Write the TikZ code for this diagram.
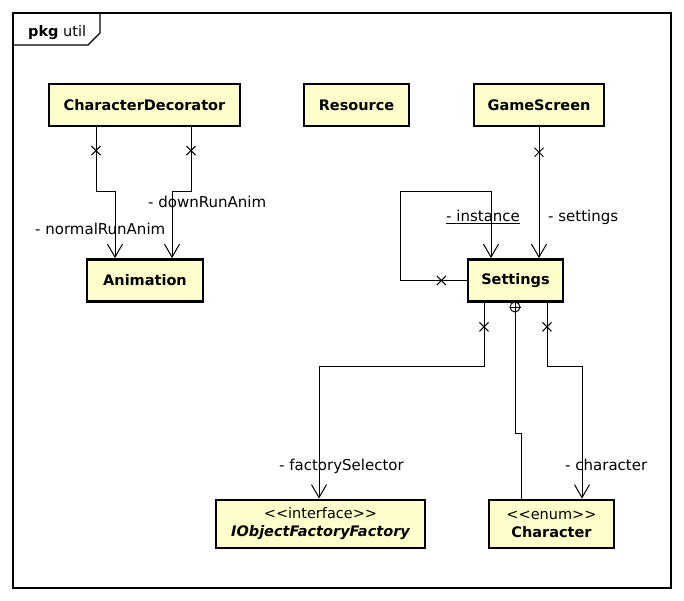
\documentclass[tikz,border=0pt]{standalone}
\usepackage{fontspec}
\setmainfont{DejaVu Sans}
\usetikzlibrary{arrows.meta,shapes.misc}
\definecolor{classfill}{RGB}{255,255,204}
\tikzset{
  cls/.style={draw,line width=2.8pt,fill=classfill,inner sep=0pt,
    minimum height=42pt,align=center,font=\fontsize{14.5}{18}\selectfont\bfseries},
  assoc/.style={line width=1pt,-{Straight Barb[length=13pt,width=15pt,line width=1pt]}},
  link/.style={line width=1pt},
  xmark/.style={cross out,draw,line width=1pt,minimum size=8pt,inner sep=0pt},
  nestmark/.style={circle,draw,line width=1pt,fill=white,minimum size=10pt,inner sep=0pt},
  lbl/.style={anchor=base west,inner sep=0pt,font=\fontsize{15}{18}\selectfont}
}
\begin{document}
\begin{tikzpicture}[x=1pt,y=-1pt]
      \useasboundingbox (0,0) rectangle (684,601);
      \draw[line width=1.2pt] (13,13) rectangle (671,588);
      \draw[line width=1.2pt] (13,45) -- (88,45) -- (100,33) -- (100,13);
      \node[lbl,font=\fontsize{14.5}{18}\selectfont] (tab) at (28,37) {\textbf{pkg} util};
      \draw
        (144.5,105) node[cls,minimum width=191pt] (cd){CharacterDecorator}
        (356.5,105) node[cls,minimum width=105pt] (res){Resource}
        (539,105) node[cls,minimum width=130pt] (gs){GameScreen}
        (145,280.5) node[cls,minimum width=116pt] (anim){Animation}
        (515.5,280.5) node[cls,minimum width=95pt] (set){Settings}
        (320.5,524) node[cls,minimum width=209pt,minimum height=48pt] (iof){{\mdseries {<}{<}interface{>}{>}}\\\itshape IObjectFactoryFactory}
        (551.5,524) node[cls,minimum width=125pt,minimum height=48pt] (chr){{\mdseries {<}{<}enum{>}{>}}\\Character};
      \begin{scope}
        \draw[assoc] (96,0 |- cd.south) -- node[xmark,pos=0.36]{} (96,192) -- (115,192) -- (115,0 |- anim.north);
        \draw[assoc] (191,0 |- cd.south) -- node[xmark,pos=0.36]{} (191,192) -- (172,192) -- (172,0 |- anim.north);
        \draw[assoc] (539,0 |- gs.south) -- node[xmark,pos=0.19]{} (539,0 |- set.north);
        \draw[assoc] (set.west) -- node[xmark,pos=0.38]{} (400,0 |- set.west) -- (400,192) -- (491,192) -- (491,0 |- set.north);
        \draw[assoc] (484,0 |- set.south) -- node[xmark,pos=0.38]{} (484,366) -- (319,366) -- (319,0 |- iof.north);
        \draw[assoc] (547,0 |- set.south) -- node[xmark,pos=0.38]{} (547,366) -- (582,366) -- (582,0 |- chr.north);
        \node[nestmark] (nest) at (515,307) {};
        \draw[link] (nest.north) -- (nest.south) (nest.west) -- (nest.east);
        \draw[link] (nest.south) -- (515,433) -- (521,433) -- (521,0 |- chr.north);
      \end{scope}
      \node[lbl] (l1) at (35,235) {- normalRunAnim};
      \node[lbl] (l2) at (148,208) {- downRunAnim};
      \node[lbl] (l3) at (446,222) {\underline{- instance}};
      \node[lbl] (l4) at (548,222) {- settings};
      \node[lbl] (l5) at (279,470) {- factorySelector};
      \node[lbl] (l6) at (565,470) {- character};
    \end{tikzpicture}
\end{document}
